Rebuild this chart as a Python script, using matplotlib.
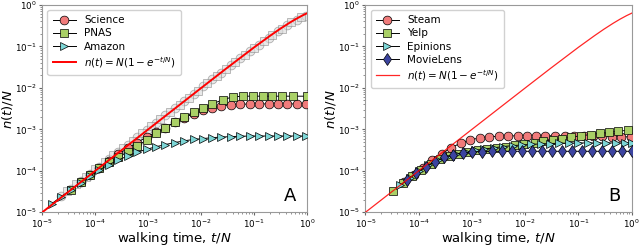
import matplotlib
matplotlib.use("Agg")
import matplotlib.pyplot as plt

# ---- panel A data ----
sci_t = [5.3e-5, 8e-5, 1.2e-4, 1.8e-4, 2.7e-4, 4.1e-4, 6.2e-4, 9.3e-4, 1.4e-3, 2.1e-3,
         3.2e-3, 4.8e-3, 7.2e-3, 1.1e-2, 1.6e-2, 2.4e-2, 3.7e-2, 5.5e-2, 8.3e-2, 0.125,
         0.19, 0.28, 0.42, 0.64, 0.96]
sci_n = [5.3e-5, 8e-5, 1.2e-4, 1.75e-4, 2.5e-4, 3.5e-4, 4.8e-4, 6.5e-4, 8.5e-4, 1.1e-3,
         1.5e-3, 1.9e-3, 2.4e-3, 2.9e-3, 3.3e-3, 3.7e-3, 3.9e-3, 4.0e-3, 4.1e-3, 4.1e-3,
         4.1e-3, 4.1e-3, 4.1e-3, 4.1e-3, 4.1e-3]

pnas_t = [3.5e-5, 5.3e-5, 8e-5, 1.2e-4, 1.8e-4, 2.7e-4, 4.1e-4, 6.2e-4, 9.3e-4, 1.4e-3,
          2.1e-3, 3.2e-3, 4.8e-3, 7.2e-3, 1.1e-2, 1.6e-2, 2.6e-2, 4.0e-2, 6.2e-2, 9.5e-2,
          0.145, 0.22, 0.34, 0.53, 0.98]
pnas_n = [3.5e-5, 5.3e-5, 7.8e-5, 1.15e-4, 1.6e-4, 2.1e-4, 2.9e-4, 4.0e-4, 5.5e-4, 8.0e-4,
          1.1e-3, 1.5e-3, 2.0e-3, 2.6e-3, 3.3e-3, 4.1e-3, 5.2e-3, 6.1e-3, 6.3e-3, 6.3e-3,
          6.3e-3, 6.3e-3, 6.3e-3, 6.3e-3, 6.3e-3]

amz_t = [1.5e-5, 2.3e-5, 3.5e-5, 5.3e-5, 8e-5, 1.2e-4, 1.8e-4, 2.7e-4, 4.1e-4, 6.2e-4,
         9.3e-4, 1.4e-3, 2.1e-3, 3.2e-3, 4.8e-3, 7.2e-3, 1.1e-2, 1.6e-2, 2.4e-2, 3.7e-2,
         5.5e-2, 8.3e-2, 0.125, 0.19, 0.28, 0.42, 0.64, 0.96]
amz_n = [1.6e-5, 2.4e-5, 3.5e-5, 5.2e-5, 7.5e-5, 1.05e-4, 1.4e-4, 1.8e-4, 2.3e-4, 2.8e-4,
         3.3e-4, 3.8e-4, 4.3e-4, 4.8e-4, 5.3e-4, 5.7e-4, 6.0e-4, 6.3e-4, 6.5e-4, 6.7e-4,
         6.8e-4, 6.9e-4, 6.9e-4, 6.9e-4, 6.9e-4, 6.9e-4, 6.9e-4, 6.9e-4]

# randomised runs (grey, behind)
rnd_t = [2.3e-5, 3.5e-5, 5.3e-5, 8e-5, 1.2e-4, 1.8e-4, 2.7e-4, 4.1e-4, 6.2e-4, 9.3e-4,
         1.4e-3, 2.1e-3, 3.2e-3, 4.8e-3, 7.2e-3, 1.1e-2, 1.6e-2, 2.4e-2, 3.7e-2, 5.5e-2,
         8.3e-2, 0.125, 0.19, 0.28, 0.42, 0.64, 0.96]
rnd_n = [2.5e-5, 3.7e-5, 5.6e-5, 8.4e-5, 1.25e-4, 1.9e-4, 2.8e-4, 4.3e-4, 6.5e-4, 9.7e-4,
         1.45e-3, 2.2e-3, 3.3e-3, 4.9e-3, 7.3e-3, 1.1e-2, 1.6e-2, 2.3e-2, 3.5e-2, 5.2e-2,
         7.7e-2, 0.11, 0.16, 0.23, 0.32, 0.44, 0.55]
rnd2_t = [2.9e-5, 4.4e-5, 6.6e-5, 1.0e-4, 1.5e-4, 2.2e-4, 3.4e-4, 5.1e-4, 7.7e-4, 1.15e-3,
          1.7e-3, 2.6e-3, 3.9e-3, 5.8e-3, 8.7e-3, 1.3e-2, 2.0e-2, 2.9e-2, 4.4e-2, 6.6e-2,
          0.1, 0.15, 0.22, 0.33, 0.5, 0.75]
rnd2_n = [3.2e-5, 4.8e-5, 7.2e-5, 1.08e-4, 1.6e-4, 2.35e-4, 3.6e-4, 5.3e-4, 8.0e-4, 1.2e-3,
          1.75e-3, 2.6e-3, 3.9e-3, 5.8e-3, 8.6e-3, 1.28e-2, 1.95e-2, 2.8e-2, 4.2e-2, 6.2e-2,
          9.2e-2, 0.135, 0.19, 0.27, 0.38, 0.5]

# ---- panel B data ----
steam_t = [5.3e-5, 8e-5, 1.2e-4, 1.8e-4, 2.7e-4, 4.1e-4, 6.2e-4, 9.3e-4, 1.4e-3, 2.1e-3,
           3.2e-3, 4.8e-3, 7.2e-3, 1.1e-2, 1.6e-2, 2.4e-2, 3.7e-2, 5.5e-2, 8.3e-2, 0.125,
           0.19, 0.28, 0.42, 0.64, 0.96]
steam_n = [5.3e-5, 8e-5, 1.2e-4, 1.8e-4, 2.6e-4, 3.6e-4, 4.7e-4, 5.6e-4, 6.2e-4, 6.6e-4,
           6.8e-4, 6.9e-4, 7.0e-4, 7.0e-4, 7.0e-4, 7.0e-4, 7.0e-4, 7.0e-4, 6.9e-4, 6.9e-4,
           6.8e-4, 6.8e-4, 6.7e-4, 6.6e-4, 6.6e-4]

yelp_t = [3.3e-5, 5e-5, 7.5e-5, 1.1e-4, 1.7e-4, 2.5e-4, 3.8e-4, 5.7e-4, 8.5e-4, 1.3e-3,
          1.9e-3, 2.9e-3, 4.3e-3, 6.5e-3, 9.7e-3, 1.5e-2, 2.2e-2, 3.3e-2, 4.9e-2, 7.4e-2,
          0.11, 0.17, 0.25, 0.37, 0.56, 0.84]
yelp_n = [3.3e-5, 5e-5, 7.3e-5, 1.05e-4, 1.45e-4, 1.9e-4, 2.3e-4, 2.6e-4, 2.85e-4, 3.1e-4,
          3.3e-4, 3.5e-4, 3.8e-4, 4.1e-4, 4.4e-4, 4.8e-4, 5.2e-4, 5.6e-4, 6.0e-4, 6.5e-4,
          7.0e-4, 7.5e-4, 8.0e-4, 8.5e-4, 9.0e-4, 9.5e-4]

epi_t = [4.5e-5, 6.8e-5, 1.0e-4, 1.5e-4, 2.3e-4, 3.4e-4, 5.1e-4, 7.7e-4, 1.15e-3, 1.7e-3,
         2.6e-3, 3.9e-3, 5.8e-3, 8.7e-3, 1.3e-2, 2.0e-2, 2.9e-2, 4.4e-2, 6.6e-2, 0.1,
         0.15, 0.22, 0.33, 0.5, 0.75, 1.0]
epi_n = [4.5e-5, 6.7e-5, 9.7e-5, 1.35e-4, 1.8e-4, 2.2e-4, 2.55e-4, 2.85e-4, 3.1e-4, 3.35e-4,
         3.6e-4, 3.85e-4, 4.05e-4, 4.2e-4, 4.35e-4, 4.45e-4, 4.55e-4, 4.6e-4, 4.65e-4, 4.7e-4,
         4.7e-4, 4.7e-4, 4.7e-4, 4.7e-4, 4.7e-4, 4.7e-4]

movie_t = [6e-5, 9e-5, 1.35e-4, 2e-4, 3e-4, 4.5e-4, 6.8e-4, 1.0e-3, 1.55e-3, 2.4e-3,
           3.7e-3, 5.7e-3, 8.8e-3, 1.35e-2, 2.1e-2, 3.2e-2, 4.9e-2, 7.6e-2, 0.117, 0.18,
           0.28, 0.43, 0.65, 1.0]
movie_n = [6e-5, 8.8e-5, 1.25e-4, 1.65e-4, 2.1e-4, 2.45e-4, 2.7e-4, 2.85e-4, 2.92e-4, 2.95e-4,
           2.96e-4, 2.96e-4, 2.96e-4, 2.96e-4, 2.96e-4, 2.96e-4, 2.96e-4, 2.96e-4, 2.96e-4, 2.96e-4,
           2.96e-4, 2.96e-4, 2.96e-4, 2.96e-4]

# theory curve n(t)/N = 1 - exp(-t/N), tabulated
th_t = [1e-5, 1e-4, 1e-3, 1e-2, 3e-2, 0.1, 0.2, 0.3, 0.45, 0.6, 0.8, 1.0]
th_n = [1e-5, 1e-4, 9.995e-4, 9.95e-3, 2.96e-2, 0.0952, 0.181, 0.259, 0.362, 0.451, 0.551, 0.632]

c_red = "#f07b7b"
c_green = "#a9d066"
c_cyan = "#7dd6d6"
c_navy = "#3c44a0"
theory_label = r"$n(t) = N(1-e^{-t/N})$"

fig = plt.figure(figsize=(6.4, 2.46), dpi=100)
axA = fig.add_axes([0.066, 0.137, 0.414, 0.843])
axB = fig.add_axes([0.571, 0.137, 0.416, 0.843])

mk = dict(color="k", lw=0.7, markeredgecolor="k", markeredgewidth=0.5, markersize=6.3)

# panel A
axA.plot(rnd_t, rnd_n, "o", color="0.55", mfc="0.85", mec="0.5", mew=0.6, ms=6.3, alpha=0.6, zorder=1)
axA.plot(rnd2_t, rnd2_n, "s", color="0.55", mfc="0.85", mec="0.5", mew=0.6, ms=5.7, alpha=0.6, zorder=1)
axA.plot(sci_t, sci_n, "-o", mfc=c_red, label="Science", zorder=3, **mk)
axA.plot(pnas_t, pnas_n, "-s", mfc=c_green, label="PNAS", zorder=3, **{**mk, "markersize": 5.7})
axA.plot(amz_t, amz_n, "->", mfc=c_cyan, label="Amazon", zorder=3, **mk)
axA.plot(th_t, th_n, "-", color="red", lw=1.4, label=theory_label, zorder=4)

# panel B
axB.plot(steam_t, steam_n, "-o", mfc=c_red, label="Steam", zorder=3, **mk)
axB.plot(yelp_t, yelp_n, "-s", mfc=c_green, label="Yelp", zorder=3, **{**mk, "markersize": 5.7})
axB.plot(epi_t, epi_n, "->", mfc=c_cyan, label="Epinions", zorder=3, **mk)
axB.plot(movie_t, movie_n, "-d", mfc=c_navy, label="MovieLens", zorder=3, **mk)
axB.plot(th_t, th_n, "-", color="red", lw=0.9, alpha=0.85, label=theory_label, zorder=4)

for ax, tag in [(axA, "A"), (axB, "B")]:
    ax.set_xscale("log")
    ax.set_yscale("log")
    ax.set_xlim(1e-5, 1)
    ax.set_ylim(1e-5, 1)
    ax.set_xticks([1e-5, 1e-4, 1e-3, 1e-2, 1e-1, 1e0])
    ax.set_yticks([1e-5, 1e-4, 1e-3, 1e-2, 1e-1, 1e0])
    ax.tick_params(labelsize=6.3, length=2.5, pad=1.5, color="0.4")
    ax.tick_params(which="minor", length=1.5, color="0.5")
    for sp in ax.spines.values():
        sp.set_color("0.6")
    ax.set_xlabel(r"walking time, $t/N$", fontsize=9.5, labelpad=0)
    ax.set_ylabel(r"$n(t)/N$", fontsize=9.5, labelpad=0)
    ax.text(0.935, 0.08, tag, transform=ax.transAxes, fontsize=13, ha="center", va="center")
    ax.legend(loc="upper left", fontsize=7.5, handlelength=2.2, borderpad=0.5,
              labelspacing=0.3, framealpha=0.9)

fig.savefig("out.png", dpi=100)
